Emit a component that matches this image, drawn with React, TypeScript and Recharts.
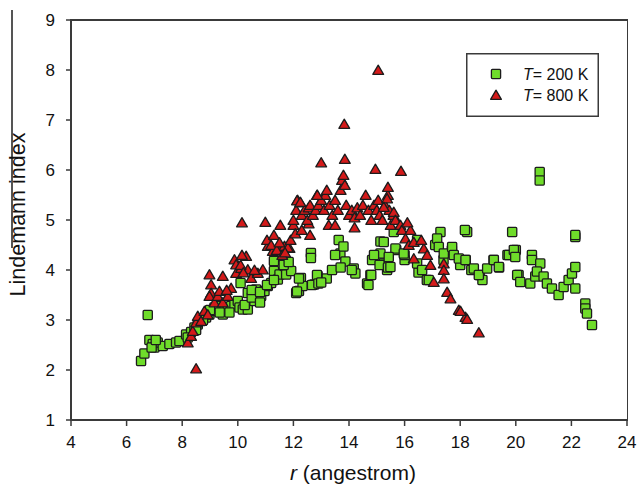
import React from 'react';
import { ScatterChart, Scatter, XAxis, YAxis, Legend } from 'recharts';

// T = 200 K (green squares)
const r200: number[] = [
  6.52, 6.64, 6.76, 6.82, 6.94, 7.0, 7.12, 7.3, 7.54, 7.78, 7.9, 8.14, 8.32, 8.44, 8.56, 8.68, 8.86, 8.98, 9.1, 9.16,
  9.28, 9.46, 9.52, 9.64, 9.76, 9.88, 10.0, 10.06, 10.1, 10.18, 10.36, 10.36, 10.6, 10.66, 10.84, 10.96, 11.08, 11.2, 11.3, 11.3,
  11.44, 11.5, 11.68, 11.74, 11.8, 11.92, 12.1, 12.2, 12.27, 12.33, 12.63, 12.63, 12.75, 12.87,
  6.9, 7.05, 8.2, 8.5, 8.75, 9.0, 9.35, 9.7, 10.25, 10.5, 10.8,
  10.5, 10.8, 11.05, 11.3, 11.65, 11.83, 12.2, 12.13, 12.67, 12.85, 12.9, 13.2, 13.39, 13.63, 13.69, 13.8, 13.87, 14.17, 14.23, 14.65,
  14.77, 14.83, 15.13, 15.13, 15.25, 15.37,
  13.0, 13.5, 13.7, 14.1, 14.7, 14.8, 14.9, 15.1, 15.4, 15.7, 16.0, 16.0, 16.5, 16.8, 17.1, 17.4, 17.7, 18.0, 18.2, 18.4,
  18.7, 18.8, 19.2, 19.4, 19.7, 20.0, 20.1,
  15.61, 15.67, 15.25, 15.43, 15.97, 16.45, 17.29, 17.17, 17.23, 17.41, 17.71, 17.77, 17.95, 18.25, 18.19, 18.49, 18.67, 18.97, 19.21, 19.39,
  19.75, 19.87, 19.93, 20.05, 16.45, 16.87, 16.63, 15.49, 18.17,
  20.86, 20.86, 22.14, 22.14, 19.98, 20.16, 20.52, 20.58, 20.58, 20.7, 20.88, 20.76, 21.0, 21.12, 21.3, 21.54, 21.72, 21.9, 22.02, 22.14,
  22.14, 22.5, 22.5, 22.56, 22.74,
];
const L200: number[] = [
  2.18, 2.33, 3.1, 2.6, 2.52, 2.45, 2.55, 2.48, 2.52, 2.55, 2.58, 2.71, 2.76, 2.85, 2.91, 2.98, 3.05, 3.11, 3.18, 3.25,
  3.28, 3.11, 3.25, 3.21, 3.28, 3.31, 3.38, 3.25, 3.74, 3.21, 3.21, 3.54, 3.38, 3.61, 3.48, 3.58, 3.68, 3.74, 3.98, 4.18,
  3.81, 3.91, 4.08, 3.91, 4.14, 3.98, 3.54, 3.58, 3.84, 3.68, 4.34, 4.24, 3.71, 3.88,
  2.45, 2.6, 2.65, 2.8, 3.0, 3.2, 3.15, 3.15, 3.3, 3.45, 3.35,
  3.6, 3.56, 3.7, 3.8, 4.1, 4.16, 3.83, 3.57, 3.7, 3.9, 3.73, 3.83, 4.0, 4.6, 4.33, 4.47, 4.17, 4.03, 3.93, 3.73,
  3.9, 4.2, 4.57, 4.33, 4.13, 4.0,
  3.75, 4.3, 4.05, 4.0, 3.7, 3.9, 4.3, 4.1, 4.05, 4.4, 4.2, 4.3, 3.95, 3.8, 4.5, 4.2, 4.4, 4.1, 4.2, 4.0,
  3.9, 3.8, 4.2, 4.05, 4.3, 4.4, 3.9,
  4.76, 4.43, 4.56, 4.26, 4.33, 4.6, 4.76, 4.63, 4.46, 4.33, 4.46, 4.3, 4.23, 4.76, 4.2, 4.03, 3.9, 4.03, 4.2, 4.06,
  4.3, 4.76, 4.4, 3.9, 4.13, 3.8, 4.0, 4.06, 4.8,
  5.96, 5.79, 4.66, 4.7, 4.26, 3.76, 3.73, 4.3, 4.2, 3.87, 4.13, 3.97, 3.87, 3.73, 3.63, 3.5, 3.66, 3.8, 3.93, 4.06,
  3.63, 3.33, 3.23, 3.13, 2.9,
];

// T = 800 K (red triangles)
const r800: number[] = [
  8.5, 8.2, 8.32, 8.38, 8.5, 8.56, 8.68, 8.8, 8.92, 8.98, 9.04, 9.04, 8.98, 9.16, 9.28, 9.34, 9.46, 9.46, 9.64, 9.76,
  9.88, 9.94, 9.94, 10.12, 10.3, 10.36, 10.48, 10.72, 10.9, 11.08, 11.26, 11.44, 11.68, 11.86,
  10.15, 10.99, 11.53, 12.0, 12.55, 13.27,
  11.05, 11.2, 11.3, 11.4, 11.5, 11.6, 11.8, 11.9, 11.7, 12.07,
  10.1, 10.2, 10.15, 10.6, 9.6,
  12.0, 12.1, 12.15, 12.25, 12.3, 12.4, 12.5, 12.55, 12.6, 12.7, 12.8, 12.85, 12.9, 13.0, 13.1, 13.15, 13.2, 13.3, 13.4, 13.5,
  13.6, 13.7, 13.75, 13.8, 13.85, 13.9, 14.0, 14.1, 14.2, 14.3, 14.4, 14.5, 14.6, 14.7, 14.8, 14.9, 15.0, 15.05, 15.1, 15.2,
  15.3, 15.4, 15.45, 15.5, 15.6, 15.7, 13.0, 13.85, 13.83, 15.05, 14.95, 15.87, 15.4, 12.13, 12.25, 12.86, 12.6, 12.3, 13.5, 14.2,
  15.37, 15.25, 15.61, 15.67, 15.85, 15.9, 16.03, 16.21, 16.15, 16.33, 16.69, 16.81, 16.93, 16.33, 17.05, 17.41, 17.41, 17.41, 17.53, 17.65,
  17.95, 18.19, 18.67, 18.01, 18.25, 16.6, 16.1,
];
const L800: number[] = [
  2.03, 2.55, 2.68, 2.78, 2.95, 3.08, 2.98, 3.18, 3.11, 3.91, 3.71, 3.54, 3.48, 3.35, 3.48, 3.58, 3.88, 3.35, 3.48, 3.64,
  4.21, 4.11, 3.94, 4.04, 4.28, 4.01, 3.84, 3.94, 4.01, 4.48, 4.38, 4.44, 4.48, 4.44,
  4.95, 4.96, 4.9, 4.9, 4.93, 4.9,
  4.6, 4.5, 4.7, 4.4, 4.55, 4.3, 4.45, 4.6, 4.35, 4.73,
  4.1, 3.95, 4.3, 4.0, 3.6,
  5.0, 5.2, 5.4, 5.35, 5.1, 5.2, 5.0, 5.25, 5.3, 5.1, 5.2, 5.5, 5.3, 5.4, 5.2, 5.5, 5.6, 5.3, 5.1, 5.4,
  5.2, 5.6, 5.8, 5.9, 5.7, 5.3, 5.1, 5.2, 5.05, 5.25, 5.1, 5.3, 5.5, 5.2, 5.0, 5.3, 5.2, 5.4, 5.1, 5.0,
  5.3, 5.5, 5.2, 4.9, 5.1, 5.0, 6.15, 6.22, 6.92, 8.0, 6.02, 5.98, 5.66, 5.39, 5.36, 5.5, 4.7, 4.8, 4.9, 4.85,
  5.43, 5.26, 5.16, 5.0, 4.9, 4.8, 4.63, 4.8, 4.5, 4.56, 4.43, 4.3, 4.1, 4.23, 3.76, 4.13, 4.0, 3.83, 3.56, 3.43,
  3.2, 3.06, 2.75, 3.18, 3.02, 4.6, 4.95,
];

const xTicks = [4, 6, 8, 10, 12, 14, 16, 18, 20, 22, 24];
const yTicks = [1, 2, 3, 4, 5, 6, 7, 8, 9];

const data200 = r200.map((r, i) => ({ r, L: L200[i] }));
const data800 = r800.map((r, i) => ({ r, L: L800[i] }));

const GREEN = '#6fdc2a';
const RED = '#d41a1a';
const EDGE = '#1c1c1c';
const AXIS = '#3a3a3a';
const FONT = '"Liberation Sans", Arial, sans-serif';

const Square = (props: any) => {
  const { cx, cy } = props;
  if (cx == null || cy == null) return null;
  return <rect x={cx - 4.6} y={cy - 4.6} width={9.2} height={9.2} rx={1} fill={GREEN} stroke={EDGE} strokeWidth={1.3} />;
};

const Triangle = (props: any) => {
  const { cx, cy } = props;
  if (cx == null || cy == null) return null;
  const pts = `${cx},${cy - 4.8} ${cx - 5.4},${cy + 4.3} ${cx + 5.4},${cy + 4.3}`;
  return <polygon points={pts} fill={RED} stroke={EDGE} strokeWidth={1.3} strokeLinejoin="round" />;
};

const LegendBox = () => (
  <svg width={133} height={64} style={{ display: 'block' }}>
    <rect x={0.75} y={0.75} width={131.5} height={62.5} fill="#fff" stroke={AXIS} strokeWidth={1.5} />
    <rect x={25.4} y={16.4} width={9.2} height={9.2} rx={1} fill={GREEN} stroke={EDGE} strokeWidth={1.3} />
    <polygon points="30,37.2 24.6,46.3 35.4,46.3" fill={RED} stroke={EDGE} strokeWidth={1.3} strokeLinejoin="round" />
    <text x={57} y={27} fontFamily={FONT} fontSize={16} fill="#111">
      <tspan fontStyle="italic">T</tspan>= 200 K
    </text>
    <text x={57} y={48} fontFamily={FONT} fontSize={16} fill="#111">
      <tspan fontStyle="italic">T</tspan>= 800 K
    </text>
  </svg>
);

const YLabel = (props: any) => {
  const vb = props.viewBox || { x: 0, y: 20, width: 71, height: 400 };
  const x = vb.x + 25;
  const y = vb.y + vb.height / 2 - 5.5;
  return (
    <text x={x} y={y} transform={`rotate(-90 ${x} ${y})`} textAnchor="middle" fontFamily={FONT} fontSize={21.5} fill="#111">
      Lindemann index
    </text>
  );
};

const XLabel = (props: any) => {
  const vb = props.viewBox || { x: 71, y: 420, width: 556, height: 60 };
  const x = vb.x + vb.width / 2 + 4;
  const y = vb.y + 60;
  return (
    <text x={x} y={y} textAnchor="middle" fontFamily={FONT} fontSize={21} fill="#111">
      <tspan fontStyle="italic">r</tspan> (angestrom)
    </text>
  );
};

export default function App() {
  return (
    <div style={{ position: 'absolute', left: 0, top: 0, width: 638, height: 484, background: '#fff' }}>
      <div style={{ position: 'absolute', left: 11, top: 10, width: 1.5, height: 238, background: '#555' }} />
      <ScatterChart width={638} height={484} margin={{ top: 20, right: 11, bottom: 4, left: 0 }}>
        <XAxis
          type="number"
          dataKey="r"
          domain={[4, 24]}
          ticks={xTicks}
          interval={0}
          allowDataOverflow
          height={60}
          tickSize={6}
          tickMargin={10}
          axisLine={{ stroke: AXIS, strokeWidth: 2 }}
          tickLine={{ stroke: AXIS, strokeWidth: 1.5 }}
          tick={{ fill: '#111', fontSize: 17, fontFamily: FONT }}
          label={<XLabel />}
        />
        <YAxis
          type="number"
          dataKey="L"
          domain={[1, 9]}
          ticks={yTicks}
          interval={0}
          allowDataOverflow
          width={71}
          tickSize={5}
          tickMargin={11}
          axisLine={{ stroke: AXIS, strokeWidth: 2 }}
          tickLine={{ stroke: AXIS, strokeWidth: 1.5 }}
          tick={{ fill: '#111', fontSize: 17, fontFamily: FONT }}
          label={<YLabel />}
        />
        <Legend
          layout="horizontal"
          verticalAlign="middle"
          align="center"
          content={() => <LegendBox />}
          wrapperStyle={{ position: 'absolute', left: 466, top: 53, width: 133, height: 64 }}
        />
        <Scatter name="T= 200 K" data={data200} shape={<Square />} isAnimationActive={false} />
        <Scatter name="T= 800 K" data={data800} shape={<Triangle />} isAnimationActive={false} />
      </ScatterChart>
      <div
        style={{
          position: 'absolute',
          left: 70,
          top: 19,
          width: 558,
          height: 402,
          boxSizing: 'border-box',
          borderTop: `2px solid ${AXIS}`,
          borderRight: `1.5px solid ${AXIS}`,
          borderLeft: `2px solid ${AXIS}`,
          borderBottom: `2px solid ${AXIS}`,
          pointerEvents: 'none',
        }}
      />
    </div>
  );
}
